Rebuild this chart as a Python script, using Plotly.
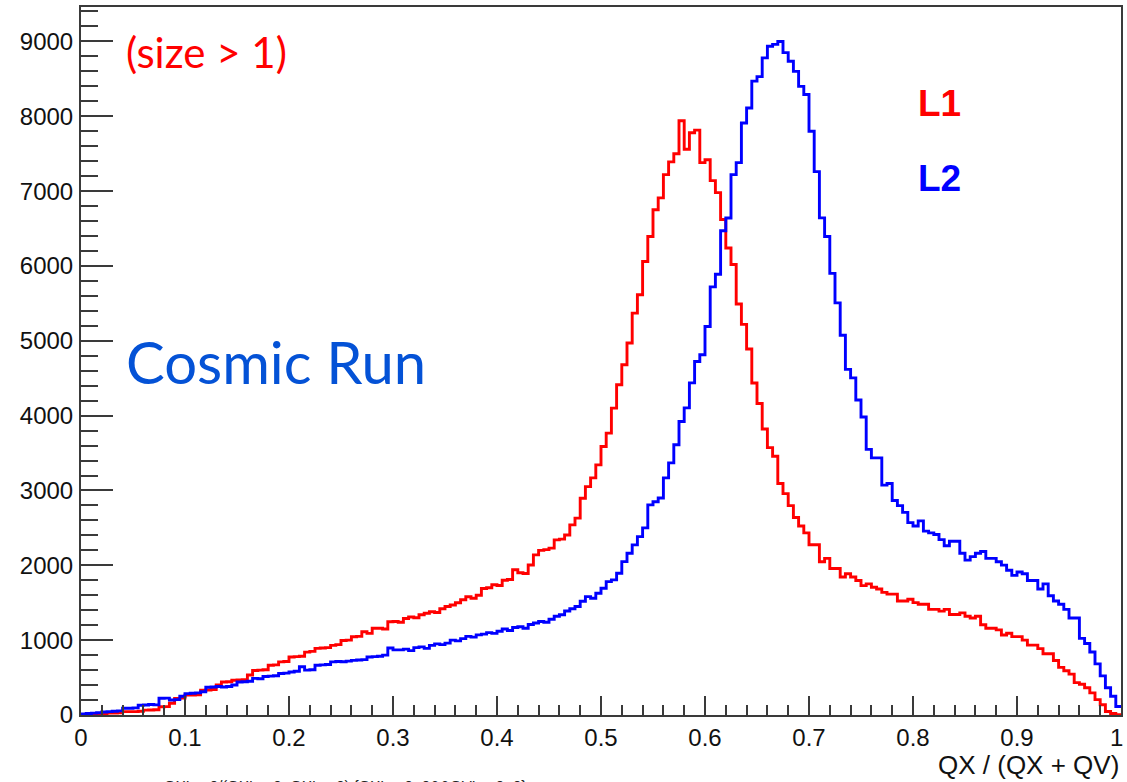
import plotly.graph_objects as go

# ---------------- data (200 bins, 0..1, width 0.005) ----------------
bin_width = 0.005
n_bins = 200

l1_counts = [
    0, 5, 5, 10, 15, 25, 25, 30, 45, 45, 45, 50, 65, 67, 70, 110, 112, 156, 220, 225,
    265, 267, 270, 330, 334, 340, 400, 440, 445, 465, 468, 470, 535, 595, 600, 605, 665, 670, 710, 715,
    775, 780, 785, 840, 850, 890, 895, 900, 930, 940, 995, 1000, 1045, 1050, 1113, 1090, 1160, 1160, 1150, 1245, 1250, 1240,
    1290, 1310, 1300, 1340, 1360, 1380, 1370, 1420, 1450, 1470, 1500, 1540, 1580, 1560, 1600, 1690, 1700, 1740,
    1730, 1800, 1810, 1940, 1900, 1890, 2005, 2140, 2200, 2210, 2230, 2340, 2350, 2406, 2540, 2630, 2897, 3052, 3168, 3342,
    3587, 3766, 4100, 4412, 4679, 4970, 5370, 5615, 6060, 6394, 6750, 6910, 7220, 7390, 7500, 7940, 7560, 7780, 7815, 7380,
    7420, 7140, 6980, 6620, 6240, 6020,
    5492, 5219, 4891, 4436, 4163, 3822, 3572, 3458, 3094, 2958, 2798, 2639, 2525, 2434, 2275, 2275, 2048, 2093, 1957, 1957,
    1843, 1888, 1843, 1797, 1729, 1752, 1706, 1684, 1638, 1615, 1615, 1524, 1524, 1547, 1502, 1479, 1479, 1411, 1411, 1388,
    1411, 1342, 1342, 1365, 1320, 1297, 1320, 1206, 1160, 1160, 1138, 1069, 1092, 1047, 1047, 1001, 933, 933, 887, 819,
    819, 728, 637, 592, 546, 432, 410, 364, 296, 205, 137, 46, 20, 5,
]

l2_counts = [
    15, 20, 25, 30, 40, 45, 50, 55, 90, 90, 95, 130, 134, 140, 135, 223, 225, 200, 205, 250,
    285, 290, 295, 310, 370, 375, 380, 375, 380, 400, 440, 445, 450, 490, 485, 515, 520, 525, 555, 560,
    575, 585, 645, 600, 605, 665, 670, 675, 710, 715, 712, 720, 730, 735, 740, 775, 780, 785, 800, 895, 870, 870,
    880, 860, 900, 910, 890, 930, 950, 940, 960, 1000, 990, 1020, 1050, 1040, 1070, 1080, 1100, 1090, 1120, 1150,
    1130, 1170, 1180, 1160, 1210, 1230, 1250, 1240, 1280, 1320, 1340, 1390, 1420, 1450, 1520,
    1582, 1560, 1627, 1693, 1782, 1805, 1894, 2050, 2161, 2273, 2384, 2500, 2807, 2850, 2900, 3168, 3369, 3610, 3922, 4104,
    4438, 4724, 4813, 5191, 5720, 5890, 6470, 6640, 7220, 7380, 7910, 8110, 8470, 8530, 8780, 8935, 8960, 9000, 8850, 8735,
    8600, 8400, 8290, 7800, 7260,
    6643, 6393, 5901, 5506, 5074, 4618, 4505, 4209, 3981, 3549, 3435, 3435, 3071, 3094, 2867, 2798, 2707, 2571, 2525, 2594,
    2457, 2434, 2412, 2343, 2261, 2321, 2321, 2161, 2070, 2116, 2161, 2184, 2093, 2093, 2048, 2002, 1934, 1866, 1911, 1888,
    1797, 1797, 1684, 1752, 1593, 1524, 1479, 1411, 1297, 1297, 1024, 956, 842, 683, 523, 364, 250, 114,
]

x_tick_vals = [0, 0.1, 0.2, 0.3, 0.4, 0.5, 0.6, 0.7, 0.8, 0.9]
x_tick_text = ["0", "0.1", "0.2", "0.3", "0.4", "0.5", "0.6", "0.7", "0.8", "0.9"]
x_last_label = "1"
y_tick_vals = [0, 1000, 2000, 3000, 4000, 5000, 6000, 7000, 8000, 9000]
y_tick_text = ["0", "1000", "2000", "3000", "4000", "5000", "6000", "7000", "8000", "9000"]

# bin edges for step drawing
edges = [i * bin_width for i in range(n_bins + 1)]


def step_series(counts):
    return edges, list(counts) + [counts[-1]]


fig = go.Figure()
for counts, color, name in [(l1_counts, "#ff0000", "L1"), (l2_counts, "#0000ff", "L2")]:
    xs, ys = step_series(counts)
    fig.add_trace(go.Scatter(x=xs, y=ys, mode="lines", line=dict(shape="hv", color=color, width=2.9),
                             name=name, showlegend=False, hoverinfo="skip"))

axis_col = "#3a3a3a"
tick_font = dict(family="Liberation Sans, Arial, sans-serif", size=24, color="#111111")

fig.update_layout(
    width=1127, height=782,
    margin=dict(l=81, r=4, t=7, b=67),
    paper_bgcolor="white", plot_bgcolor="white",
    xaxis=dict(range=[0, 1], showgrid=False, zeroline=False,
               showline=True, mirror=True, linecolor=axis_col, linewidth=2,
               ticks="inside", ticklen=19, tickwidth=1.8, tickcolor=axis_col,
               tickvals=x_tick_vals + [1.0], ticktext=x_tick_text + [""], tickfont=tick_font,
               ticklabelstandoff=0,
               minor=dict(ticks="inside", dtick=0.02, ticklen=10, tickwidth=1.6, tickcolor=axis_col)),
    yaxis=dict(range=[0, 9460], showgrid=False, zeroline=False,
               showline=True, mirror=True, linecolor=axis_col, linewidth=2,
               ticks="inside", ticklen=32, tickwidth=1.8, tickcolor=axis_col,
               tickvals=y_tick_vals, ticktext=y_tick_text, tickfont=tick_font,
               ticklabelstandoff=1,
               minor=dict(ticks="inside", dtick=200, ticklen=17, tickwidth=1.6, tickcolor=axis_col)),
)

annotations = [
    dict(text="(size > 1)", x=0.0415, y=0.936, xanchor="left", yanchor="middle",
         font=dict(family="Lato, Open Sans, sans-serif", size=42, color="#ff0000")),
    dict(text="Cosmic Run", x=0.0415, y=0.499, xanchor="left", yanchor="middle",
         font=dict(family="Lato, Open Sans, sans-serif", size=58, color="#0452d6")),
    dict(text="<b>L1</b>", x=0.803, y=0.864, xanchor="left", yanchor="middle",
         font=dict(family="Liberation Sans, Arial, sans-serif", size=37, color="#ff0000")),
    dict(text="<b>L2</b>", x=0.803, y=0.758, xanchor="left", yanchor="middle",
         font=dict(family="Liberation Sans, Arial, sans-serif", size=37, color="#0000ff")),
    dict(text=x_last_label, x=1.0038, y=-0.0318, xanchor="right", yanchor="middle",
         font=tick_font),
    dict(text="QX / (QX + QV)", x=1.0, y=-0.0705, xanchor="right", yanchor="middle",
         font=dict(family="Liberation Sans, Arial, sans-serif", size=26, color="#111111")),
    dict(text="QXLay0/(QXLay0+QXLay0) {QXLay0>0&&QVLay0>0}", x=0.078, y=-0.0847,
         xanchor="left", yanchor="top",
         font=dict(family="Liberation Sans, Arial, sans-serif", size=15, color="#222222")),
]
for a in annotations:
    a.update(xref="paper", yref="paper", showarrow=False)
fig.update_layout(annotations=annotations)

fig.write_html("out.html")
